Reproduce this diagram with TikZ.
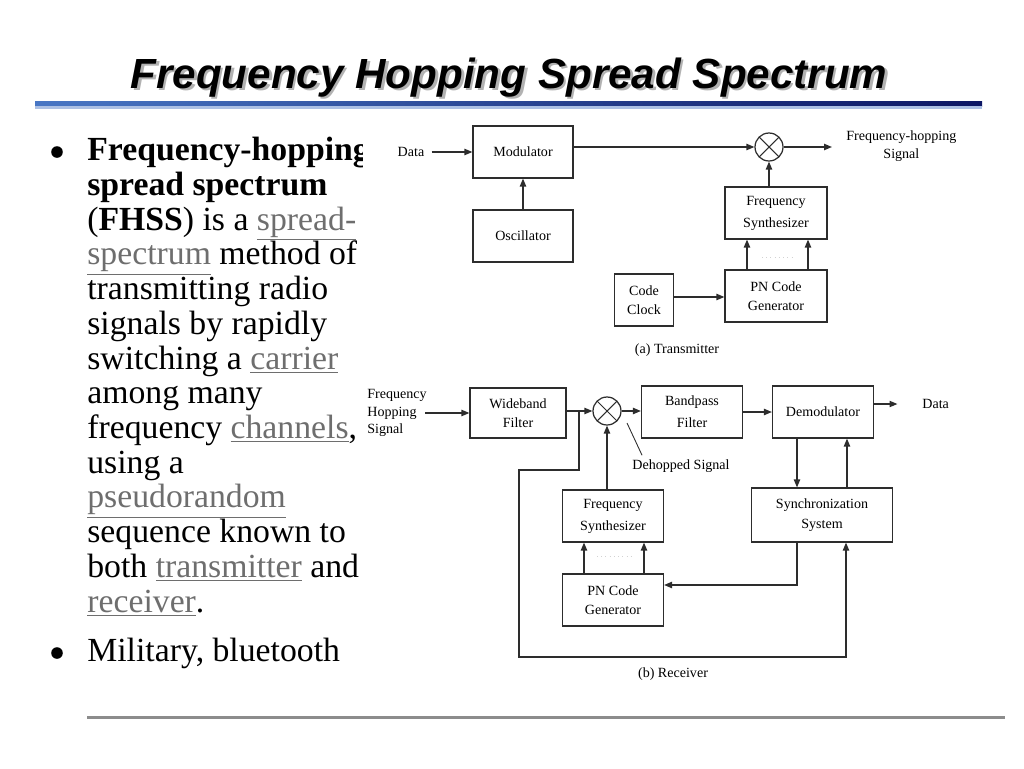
\documentclass[tikz,border=0pt]{standalone}
\usepackage{fontspec}
\setmainfont{Liberation Serif}
\newfontfamily\headfont{Liberation Sans}
\usetikzlibrary{arrows.meta, positioning, calc}

\definecolor{linkGray}{RGB}{110,110,110}
\definecolor{ruleBlue}{RGB}{72,118,196}
\definecolor{ruleNavy}{RGB}{12,22,100}
\definecolor{ruleLight}{RGB}{172,192,228}
\definecolor{footGray}{RGB}{140,140,140}
\definecolor{wireGray}{RGB}{45,45,45}

\newcommand{\weblink}[1]{{\color{linkGray}\underline{#1}}}

\begin{document}
\begin{tikzpicture}[
        x=0.02cm, y=-0.02cm,
        blockNode/.style={
            draw=wireGray, line width=0.7pt, minimum width=2cm, minimum height=1.04cm,
            inner sep=0pt, font=\fontsize{8}{11}\selectfont, align=center
        },
        mixNode/.style={
            circle, draw=wireGray, line width=0.7pt, minimum size=0.56cm, inner sep=0pt,
            path picture={
                \draw[wireGray, line width=0.6pt]
                    (path picture bounding box.north west) -- (path picture bounding box.south east)
                    (path picture bounding box.north east) -- (path picture bounding box.south west);
            }
        },
        sigText/.style={
            inner sep=0pt, font=\fontsize{8}{10}\selectfont, align=center
        },
        wire/.style={
            draw=wireGray, line width=0.7pt
        },
        arrow/.style={
            wire, -{Triangle[length=4.5pt, width=3.6pt]}
        },
        titleText/.style={
            anchor=base, font=\headfont\bfseries\itshape\fontsize{24}{28}\selectfont
        }
    ]
        \useasboundingbox (0,0) rectangle (1024,768);

        % Title and rules
        \node (titleShadow) [titleText, text=gray!60] at (511.5,90.5) {Frequency Hopping Spread Spectrum};
        \node (title) [titleText] at (509,88) {Frequency Hopping Spread Spectrum};
        \shade[left color=ruleBlue, right color=ruleNavy] (35,101) rectangle (982,106);
        \fill[ruleLight] (35,106) rectangle (982,109);
        \fill[footGray] (87,716) rectangle (1005,719);

        % Bullet text
        \fill (57,152) circle (3.3pt);
        \fill (57,653) circle (3.3pt);
        \begin{scope}
            \clip (40,115) rectangle (362,700);
            \node (fhss) [anchor=north west, align=left, inner sep=0pt, font=\fontsize{19.2}{19.76}\selectfont] at (87,137) {
                \textbf{Frequency-hopping}\\
                \textbf{spread spectrum}\\
                (\textbf{FHSS}) is a \weblink{spread-}\\
                \weblink{spectrum} method of\\
                transmitting radio\\
                signals by rapidly\\
                switching a \weblink{carrier}\\
                among many\\
                frequency \weblink{channels},\\
                using a\\
                \weblink{pseudorandom}\\
                sequence known to\\
                both \weblink{transmitter} and\\
                \weblink{receiver}.
            };
            \node (uses) [anchor=base west, inner sep=0pt, font=\fontsize{19.2}{19.76}\selectfont] at (87,661) {Military, bluetooth};
        \end{scope}

        % Transmitter
        \node (txData) [sigText] at (411,152) {Data};
        \node (mod) [blockNode] at (523,152) {Modulator};
        \node (osc) [blockNode] at (523,236) {Oscillator};
        \node (mixTx) [mixNode] at (769,147) {};
        \node (txOut) [sigText, anchor=west] at (846,146) {Frequency-hopping\\Signal};
        \node (synTx) [blockNode, minimum width=2.04cm] at (776,213) {Frequency\\[1.5pt]Synthesizer};
        \node (pnTx) [blockNode, minimum width=2.04cm] at (776,296) {PN Code\\Generator};
        \node (clk) [blockNode, minimum width=1.18cm] at (644,300) {Code\\Clock};
        \node (txCap) [sigText] at (677,350) {(a) Transmitter};

        \coordinate (clkIn) at ($(pnTx.west)+(0,1)$);

        \draw [arrow] ([xshift=4pt]txData.east) -- (mod.west);
        \draw [arrow] (osc.north) -- (mod.south);
        \draw [arrow] (mixTx.west -| mod.east) -- (mixTx.west);
        \draw [arrow] (mixTx.east) -- ([xshift=-8pt]mixTx.east -| txOut.west);
        \draw [arrow] (synTx.north -| mixTx.south) -- (mixTx.south);
        \draw [arrow] ($(pnTx.north)+(-29,0)$) -- ($(synTx.south)+(-29,0)$);
        \draw [arrow] ($(pnTx.north)+(32,0)$) -- ($(synTx.south)+(32,0)$);
        \draw [gray!35, dotted] ($(pnTx.north)+(-14,-12)$) -- ($(pnTx.north)+(16,-12)$);
        \draw [arrow] (clk.east |- clkIn) -- (clkIn);

        % Receiver
        \node (rxIn) [sigText, align=left, anchor=west] at (367,413) {Frequency\\Hopping\\Signal};
        \node (wide) [blockNode, minimum width=1.92cm, minimum height=1cm] at (518,413) {Wideband\\Filter};
        \node (mixRx) [mixNode] at (607,411) {};
        \node (bpf) [blockNode, minimum width=2.02cm] at (692,412) {Bandpass\\[1.5pt]Filter};
        \node (demod) [blockNode, minimum width=2.02cm] at (823,412) {Demodulator};
        \node (rxData) [sigText, anchor=west] at (922,404) {Data};
        \node (sync) [blockNode, minimum width=2.82cm, minimum height=1.08cm] at (822,515) {Synchronization\\System};
        \node (synRx) [blockNode, minimum width=2.02cm] at (613,516) {Frequency\\[1.5pt]Synthesizer};
        \node (pnRx) [blockNode, minimum width=2.02cm] at (613,600) {PN Code\\Generator};
        \node (dehop) [sigText] at (681,466) {Dehopped Signal};
        \node (rxCap) [sigText] at (673,674) {(b) Receiver};

        \coordinate (tap) at (579,411);
        \coordinate (loopA) at (519,470);
        \coordinate (loopB) at (846,657);
        \coordinate (dsL) at ($(demod.south)+(-26,0)$);
        \coordinate (dsR) at ($(demod.south)+(24,0)$);
        \coordinate (ssL) at ($(sync.south)+(-25,0)$);
        \coordinate (pnIn) at ($(pnRx.east)+(0,-15)$);

        \draw [arrow] ([xshift=-1pt]rxIn.east |- wide.west) -- (wide.west);
        \draw [arrow] (wide.east |- mixRx.west) -- (mixRx.west);
        \draw [arrow] (tap) |- (loopA) |- (loopB) -- (loopB |- sync.south);
        \draw [arrow] (mixRx.east) -- (mixRx.east -| bpf.west);
        \draw [arrow] (bpf.east) -- (demod.west);
        \draw [arrow] (demod.east |- rxData.west) -- ([xshift=-14pt]rxData.west);
        \draw [arrow] (dsL) -- (dsL |- sync.north);
        \draw [arrow] (dsR |- sync.north) -- (dsR);
        \draw [arrow] (synRx.north -| mixRx.south) -- (mixRx.south);
        \draw [arrow] ($(pnRx.north)+(-29,0)$) -- ($(synRx.south)+(-29,0)$);
        \draw [arrow] ($(pnRx.north)+(31,0)$) -- ($(synRx.south)+(31,0)$);
        \draw [gray!35, dotted] ($(pnRx.north)+(-16,-17)$) -- ($(pnRx.north)+(18,-17)$);
        \draw [arrow] (ssL) |- (pnIn);
        \draw [wire, line width=0.5pt] ($(mixRx)+(20,12)$) -- ($(dehop.north west)+(10,-4)$);
    \end{tikzpicture}
\end{document}
